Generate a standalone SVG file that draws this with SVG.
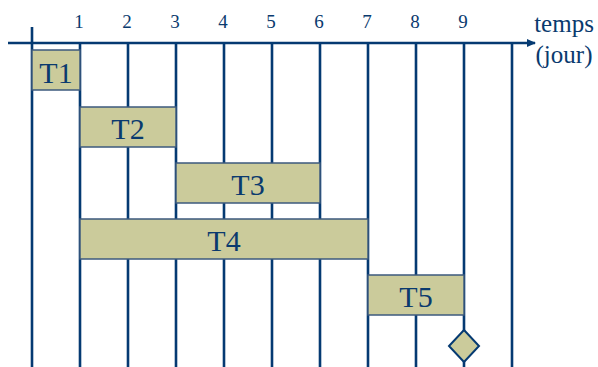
<svg xmlns="http://www.w3.org/2000/svg" width="598" height="367" viewBox="0 0 598 367">
<style>
.ln{stroke:#053a72;stroke-width:2.6;fill:none}
.bx{fill:#cbcb9b;stroke:#3c5a7e;stroke-width:1.5}
.tk{font-family:"Liberation Serif",serif;font-size:19px;fill:#0a3a6e;text-anchor:middle}
.tt{font-family:"Liberation Serif",serif;font-size:30px;fill:#0a3a6e;text-anchor:middle}
.ax{font-family:"Liberation Serif",serif;font-size:25px;fill:#0a3a6e;text-anchor:middle}
</style>
<defs>
<marker id="arr" markerWidth="10" markerHeight="10" refX="8" refY="5" orient="auto" markerUnits="userSpaceOnUse">
<path d="M0,1 L9,5 L0,9 Z" fill="#053a72"/>
</marker>
</defs>
<rect width="598" height="367" fill="#fff"/>
<g id="grid">
<line class="ln" x1="32" y1="27" x2="32" y2="367" stroke-width="3"/>
<line class="ln" x1="80" y1="43" x2="80" y2="367"/>
<line class="ln" x1="128" y1="43" x2="128" y2="367"/>
<line class="ln" x1="176" y1="43" x2="176" y2="367"/>
<line class="ln" x1="224" y1="43" x2="224" y2="367"/>
<line class="ln" x1="272" y1="43" x2="272" y2="367"/>
<line class="ln" x1="320" y1="43" x2="320" y2="367"/>
<line class="ln" x1="368" y1="43" x2="368" y2="367"/>
<line class="ln" x1="416" y1="43" x2="416" y2="367"/>
<line class="ln" x1="464" y1="43" x2="464" y2="367"/>
<line class="ln" x1="512" y1="43" x2="512" y2="367"/>
</g>
<g id="axis">
<line class="ln" x1="8" y1="43" x2="535" y2="43" stroke-width="3" marker-end="url(#arr)"/>
<text class="tk" x="79" y="28">1</text>
<text class="tk" x="127" y="28">2</text>
<text class="tk" x="175" y="28">3</text>
<text class="tk" x="223" y="28">4</text>
<text class="tk" x="271" y="28">5</text>
<text class="tk" x="319" y="28">6</text>
<text class="tk" x="367" y="28">7</text>
<text class="tk" x="415" y="28">8</text>
<text class="tk" x="463" y="28">9</text>
<text class="ax" x="564" y="32">temps</text>
<text class="ax" x="564" y="63">(jour)</text>
</g>
<g id="T1"><rect class="bx" x="32" y="50" width="48" height="40"/><text class="tt" x="56" y="83">T1</text></g>
<g id="T2"><rect class="bx" x="80" y="107" width="96" height="40"/><text class="tt" x="128" y="139">T2</text></g>
<g id="T3"><rect class="bx" x="176" y="163" width="144" height="40"/><text class="tt" x="248" y="195">T3</text></g>
<g id="T4"><rect class="bx" x="80" y="219" width="288" height="40"/><text class="tt" x="224" y="251">T4</text></g>
<g id="T5"><rect class="bx" x="368" y="275" width="96" height="40"/><text class="tt" x="416" y="307">T5</text></g>
<g id="milestone"><polygon points="464,330 479,346 464,362 449,346" fill="#cbcb9b" stroke="#053a72" stroke-width="2"/></g>
</svg>
